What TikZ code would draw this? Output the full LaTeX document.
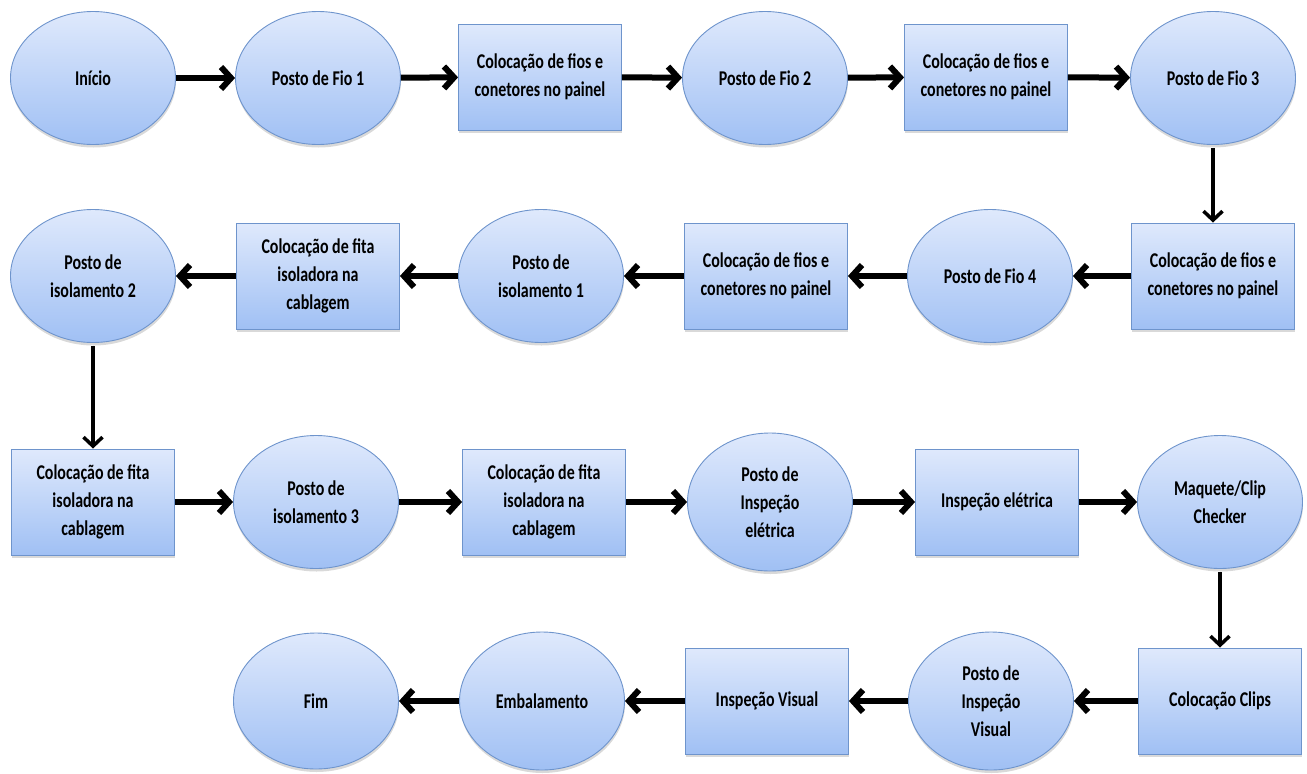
\documentclass[tikz,border=0pt]{standalone}
\usepackage{fontspec}
\setmainfont{Carlito}[FakeStretch=0.76]
\usetikzlibrary{shapes.geometric,arrows.meta,shadows}

\definecolor{borda}{HTML}{6E94CC}
\definecolor{topo}{HTML}{DFE9FC}
\definecolor{fundo}{HTML}{A0C0F4}

\begin{document}
\begin{tikzpicture}[x=1pt, y=-1pt,
    base/.style={draw=borda, line width=0.9pt, top color=topo, bottom color=fundo,
        inner sep=0pt, align=center, font=\bfseries\fontsize{21}{28}\selectfont,
        drop shadow={shadow xshift=0.5pt, shadow yshift=-3pt, opacity=0.3}},
    posto/.style={base, ellipse, minimum width=165pt, minimum height=133pt},
    caixa/.style={base, rectangle, minimum width=163pt, minimum height=106pt},
    seta/.style={-{Straight Barb[length=10pt,width=22pt]}, line width=6pt},
    setav/.style={-{Straight Barb[length=9pt,width=19pt]}, line width=3.5pt, shorten <=3pt}]
    \useasboundingbox (0,0) rectangle (1307,774);

    % Linha 1
    \node[posto] (inicio) at (93,78) {Início};
    \node[posto] (fio1) at (318,78) {Posto de Fio 1};
    \node[caixa] (col1) at (540,77) {Colocação de fios e\\conetores no painel};
    \node[posto] (fio2) at (765,78) {Posto de Fio 2};
    \node[caixa] (col2) at (986,77) {Colocação de fios e\\conetores no painel};
    \node[posto] (fio3) at (1213,78) {Posto de Fio 3};

    % Linha 2
    \node[caixa] (col3) at (1213,276) {Colocação de fios e\\conetores no painel};
    \node[posto] (fio4) at (990,276) {Posto de Fio 4};
    \node[caixa] (col4) at (766,276) {Colocação de fios e\\conetores no painel};
    \node[posto] (iso1) at (541,276) {Posto de\\isolamento 1};
    \node[caixa] (fita1) at (318,276) {Colocação de fita\\isoladora na\\cablagem};
    \node[posto] (iso2) at (93,276) {Posto de\\isolamento 2};

    % Linha 3
    \node[caixa] (fita2) at (93,502) {Colocação de fita\\isoladora na\\cablagem};
    \node[posto] (iso3) at (316,502) {Posto de\\isolamento 3};
    \node[caixa] (fita3) at (544,502) {Colocação de fita\\isoladora na\\cablagem};
    \node[posto, minimum height=138pt] (pie) at (770,502) {Posto de\\Inspeção\\elétrica};
    \node[caixa] (inspe) at (997,502) {Inspeção elétrica};
    \node[posto] (maquete) at (1220,502) {Maquete/Clip\\Checker};

    % Linha 4
    \node[caixa] (clips) at (1220,701) {Colocação Clips};
    \node[posto, minimum height=138pt] (piv) at (991,701) {Posto de\\Inspeção\\Visual};
    \node[caixa] (insv) at (767,701) {Inspeção Visual};
    \node[posto, minimum height=138pt] (emb) at (542,701) {Embalamento};
    \node[posto, minimum height=136pt] (fim) at (316,701) {Fim};

    % Setas
    \draw[seta] (inicio) -- (fio1);
    \draw[seta] (fio1) -- (col1);
    \draw[seta] (col1) -- (fio2);
    \draw[seta] (fio2) -- (col2);
    \draw[seta] (col2) -- (fio3);
    \draw[setav] (fio3) -- (col3);

    \draw[seta] (col3) -- (fio4);
    \draw[seta] (fio4) -- (col4);
    \draw[seta] (col4) -- (iso1);
    \draw[seta] (iso1) -- (fita1);
    \draw[seta] (fita1) -- (iso2);
    \draw[setav] (iso2) -- (fita2);

    \draw[seta] (fita2) -- (iso3);
    \draw[seta] (iso3) -- (fita3);
    \draw[seta] (fita3) -- (pie);
    \draw[seta] (pie) -- (inspe);
    \draw[seta] (inspe) -- (maquete);
    \draw[setav] (maquete) -- (clips);

    \draw[seta] (clips) -- (piv);
    \draw[seta] (piv) -- (insv);
    \draw[seta] (insv) -- (emb);
    \draw[seta] (emb) -- (fim);
\end{tikzpicture}
\end{document}
